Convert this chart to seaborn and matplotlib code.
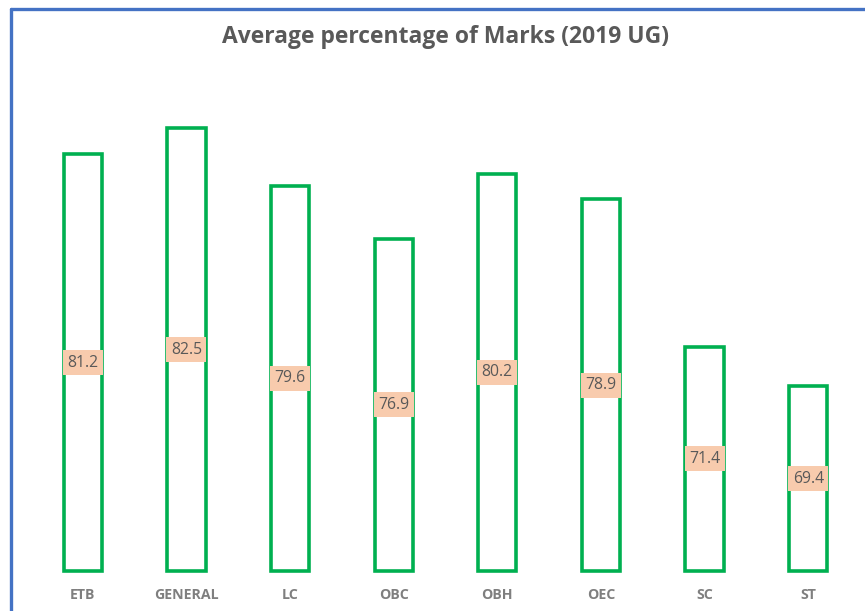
import matplotlib
matplotlib.use("Agg")
import matplotlib.pyplot as plt
import seaborn as sns
import pandas as pd
from matplotlib.lines import Line2D

categories = ["ETB", "GENERAL", "LC", "OBC", "OBH", "OEC", "SC", "ST"]
values = [81.2, 82.5, 79.6, 76.9, 80.2, 78.9, 71.4, 69.4]
title = "Average percentage of Marks (2019 UG)"
YMIN, YMAX = 60, 85

sns.set_theme(style="white")
plt.rcParams["font.family"] = ["Open Sans", "DejaVu Sans"]

df = pd.DataFrame({"category": categories, "value": values})

fig = plt.figure(figsize=(8.65, 6.11), dpi=100)
ax = fig.add_axes([31 / 865, 40 / 611, 829 / 865, 491.7 / 611])

sns.barplot(data=df, x="category", y="value", ax=ax, fill=False,
            edgecolor="#00B050", linewidth=2.6, width=0.37, errorbar=None)

ax.set_ylim(YMIN, YMAX)
ax.set_xlim(-0.5, len(categories) - 0.5)
for p in ax.patches:
    h = p.get_height()
    p.set_y(YMIN)
    p.set_height(h - YMIN)
    p.set_clip_on(False)

for c in ax.containers:
    ax.bar_label(c, labels=[f"{v:.1f}" for v in values], label_type="center",
                 fontsize=11.3, color="#595959",
                 bbox=dict(boxstyle="square,pad=0.28", fc="#F8CBAD", ec="none"))

ax.set_xlabel("")
ax.set_ylabel("")
ax.set_yticks([])
ax.tick_params(axis="x", length=0, pad=12, labelsize=10.2, labelcolor="#7F7F7F")
for t in ax.get_xticklabels():
    t.set_fontweight("bold")
for s in ax.spines.values():
    s.set_visible(False)

fig.text(446 / 865, 1 - 37 / 611, title, ha="center", va="center",
         fontsize=16.5, fontweight="bold", color="#595959")

# outer chart border (left and top edges visible)
fig.add_artist(Line2D([11 / 865, 11 / 865], [0, 1 - 9 / 611],
                      transform=fig.transFigure, color="#4472C4", lw=2.4))
fig.add_artist(Line2D([11 / 865, 1], [1 - 9 / 611, 1 - 9 / 611],
                      transform=fig.transFigure, color="#4472C4", lw=2.4))

fig.savefig("out.png", dpi=100)
